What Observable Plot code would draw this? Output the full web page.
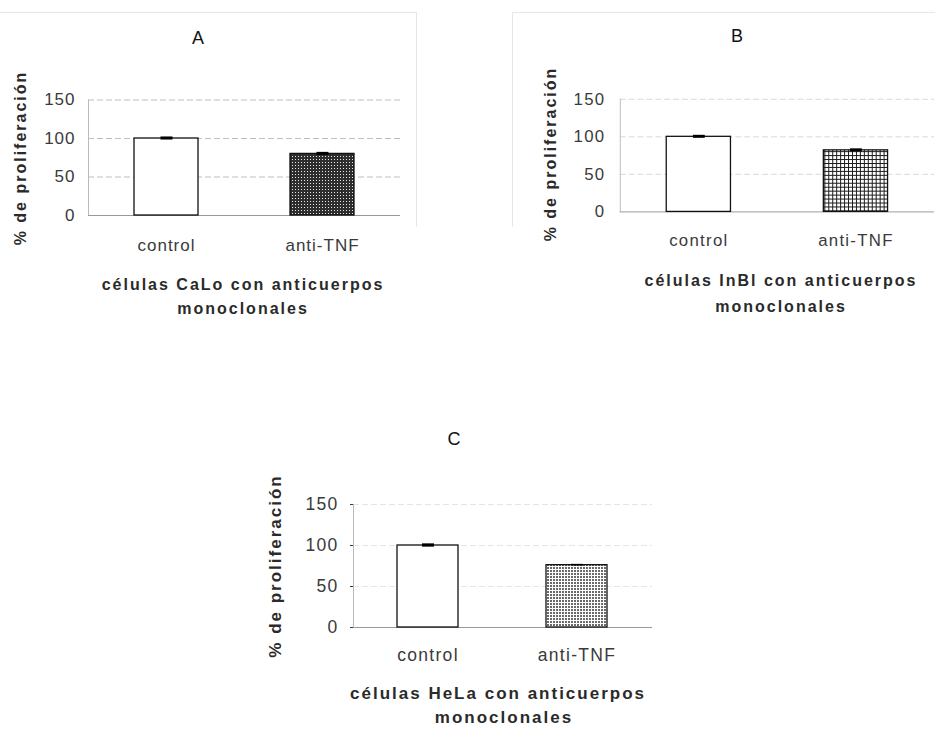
<!DOCTYPE html>
<html>
<head>
<meta charset="utf-8">
<script src="https://cdn.jsdelivr.net/npm/d3@7"></script>
<script src="https://cdn.jsdelivr.net/npm/@observablehq/plot@0.6"></script>
<style>
  html, body { margin: 0; padding: 0; background: #fff; }
  body { width: 935px; height: 730px; overflow: hidden; position: relative;
         font-family: "Liberation Sans", Arial, sans-serif; }
  .abs { position: absolute; white-space: nowrap; }
  .ctr { transform: translate(-50%, -50%); }
  .title { font-size: 18px; color: #111; }
  .ylab { font-size: 16px; font-weight: bold; letter-spacing: 2px; color: #2a2a2a;
          transform: translate(-50%, -50%) rotate(-90deg); }
  .cap { font-size: 16px; font-weight: bold; letter-spacing: 2px; color: #2a2a2a; }
  .svgwrap { position: absolute; }
  .frameline { position: absolute; background: #e6e6e6; }
</style>
</head>
<body>
<div id="root"></div>
<script>
// ---- data ----
const categories = ["control", "anti-TNF"];
const panelLetters = ["A", "B", "C"];
const cellLines = ["CaLo", "InBl", "HeLa"];
const valuesA = [100, 80];
const errorsA = [2, 2];
const valuesB = [100, 82];
const errorsB = [2, 2];
const valuesC = [100, 76];
const errorsC = [2, 1];
const yTicks = [0, 50, 100, 150];
const yLabel = "% de proliferación";
const captionLine2 = "monoclonales";

const body = document.body;

function addText(text, cls, x, y, extraStyle) {
  const d = document.createElement("div");
  d.className = "abs " + cls;
  d.textContent = text;
  d.style.left = x + "px";
  d.style.top = y + "px";
  if (extraStyle) Object.assign(d.style, extraStyle);
  body.appendChild(d);
  return d;
}

function addPatterns(svg) {
  const defs = d3.select(svg).insert("defs", ":first-child");
  // A: dark fine checker
  const pA = defs.append("pattern").attr("id", "patA").attr("patternUnits", "userSpaceOnUse")
    .attr("width", 3).attr("height", 3);
  pA.append("rect").attr("width", 3).attr("height", 3).attr("fill", "#2e2e2e");
  pA.append("rect").attr("x", 1).attr("y", 1).attr("width", 1).attr("height", 1).attr("fill", "#e8e8e8");
  // B: black grid lines with white squares
  const pB = defs.append("pattern").attr("id", "patB").attr("patternUnits", "userSpaceOnUse")
    .attr("width", 4).attr("height", 4);
  pB.append("rect").attr("width", 4).attr("height", 4).attr("fill", "#fff");
  pB.append("rect").attr("width", 4).attr("height", 1).attr("fill", "#1a1a1a");
  pB.append("rect").attr("width", 1).attr("height", 4).attr("fill", "#1a1a1a");
  // C: light dotted grid
  const pC = defs.append("pattern").attr("id", "patC").attr("patternUnits", "userSpaceOnUse")
    .attr("width", 3).attr("height", 3);
  pC.append("rect").attr("width", 3).attr("height", 3).attr("fill", "#fff");
  pC.append("rect").attr("width", 2).attr("height", 2).attr("fill", "#6a6a6a");
}

function panel(cfg) {
  const data = categories.map((c, i) => ({cat: c, v: cfg.values[i], e: cfg.errors[i]}));
  const svg = Plot.plot({
    width: cfg.width,
    height: cfg.height,
    marginLeft: cfg.ml,
    marginRight: cfg.mr,
    marginTop: cfg.mt,
    marginBottom: cfg.mb,
    style: {
      fontFamily: "'Liberation Sans', Arial, sans-serif",
      fontSize: cfg.fontSize + "px",
      letterSpacing: cfg.ls + "px",
      color: "#3a3a3a",
      background: "transparent",
      overflow: "visible"
    },
    color: {type: "identity"},
    x: {domain: categories, paddingInner: 0.59, paddingOuter: 0.295,
        tickSize: 0, tickPadding: cfg.xpad, label: null},
    y: {domain: [0, 150], ticks: yTicks, tickSize: cfg.ytick, tickPadding: cfg.ypad, label: null},
    marks: [
      Plot.ruleY(yTicks.slice(1), {stroke: "#aaa", strokeDasharray: "6,3", strokeOpacity: cfg.gridOpacity}),
      Plot.frame({anchor: "left", stroke: "#bbb"}),
      Plot.ruleY([0], {stroke: "#999"}),
      Plot.barY(data, {
        x: "cat", y: "v",
        fill: d => d.cat === categories[0] ? "white" : `url(#${cfg.pattern})`,
        stroke: "#111", strokeWidth: 1.3
      }),
      Plot.ruleX(data, {x: "cat", y1: d => d.v - d.e, y2: d => d.v + d.e, stroke: "#000", strokeWidth: 12})
    ]
  });
  addPatterns(svg);
  const wrap = document.createElement("div");
  wrap.className = "svgwrap";
  wrap.style.left = cfg.left + "px";
  wrap.style.top = cfg.top + "px";
  wrap.appendChild(svg);
  body.appendChild(wrap);
}

// frame lines (faint chart-area borders)
function line(x, y, w, h) {
  const d = document.createElement("div");
  d.className = "frameline";
  Object.assign(d.style, {left: x + "px", top: y + "px", width: w + "px", height: h + "px"});
  body.appendChild(d);
}
line(0, 12, 416, 1);
line(416, 12, 1, 215);
line(512, 12, 423, 1);
line(512, 12, 1, 215);

// Panel A
panel({left: 0, top: 80, width: 410, height: 200, ml: 88, mr: 10, mt: 19.5, mb: 65,
       values: valuesA, errors: errorsA, pattern: "patA", xpad: 23, ypad: 13, ytick: 0,
       fontSize: 17, ls: 1, gridOpacity: 0.75});
addText(panelLetters[0], "title ctr", 198, 38);
addText(yLabel, "ylab", 21, 158);
addText(`células ${cellLines[0]} con anticuerpos`, "cap ctr", 243, 285);
addText(captionLine2, "cap ctr", 243, 309);

// Panel B
panel({left: 520, top: 80, width: 420, height: 200, ml: 101, mr: 1, mt: 19, mb: 67,
       values: valuesB, errors: errorsB, pattern: "patB", xpad: 22, ypad: 15, ytick: 0,
       fontSize: 17, ls: 1.3, gridOpacity: 0.45});
addText(panelLetters[1], "title ctr", 737, 36);
addText(yLabel, "ylab", 551, 154);
addText(`células ${cellLines[1]} con anticuerpos`, "cap ctr", 781, 281);
addText(captionLine2, "cap ctr", 781, 307);

// Panel C
panel({left: 250, top: 480, width: 420, height: 200, ml: 103, mr: 18, mt: 24, mb: 53,
       values: valuesC, errors: errorsC, pattern: "patC", xpad: 21, ypad: 12, ytick: 3,
       fontSize: 17.5, ls: 1.3, gridOpacity: 0.3});
addText(panelLetters[2], "title ctr", 454, 439);
addText(yLabel, "ylab", 276, 566, {fontSize: "17px"});
addText(`células ${cellLines[2]} con anticuerpos`, "cap ctr", 498, 694, {fontSize: "17px"});
addText(captionLine2, "cap ctr", 504, 718, {fontSize: "17px"});
</script>
</body>
</html>
